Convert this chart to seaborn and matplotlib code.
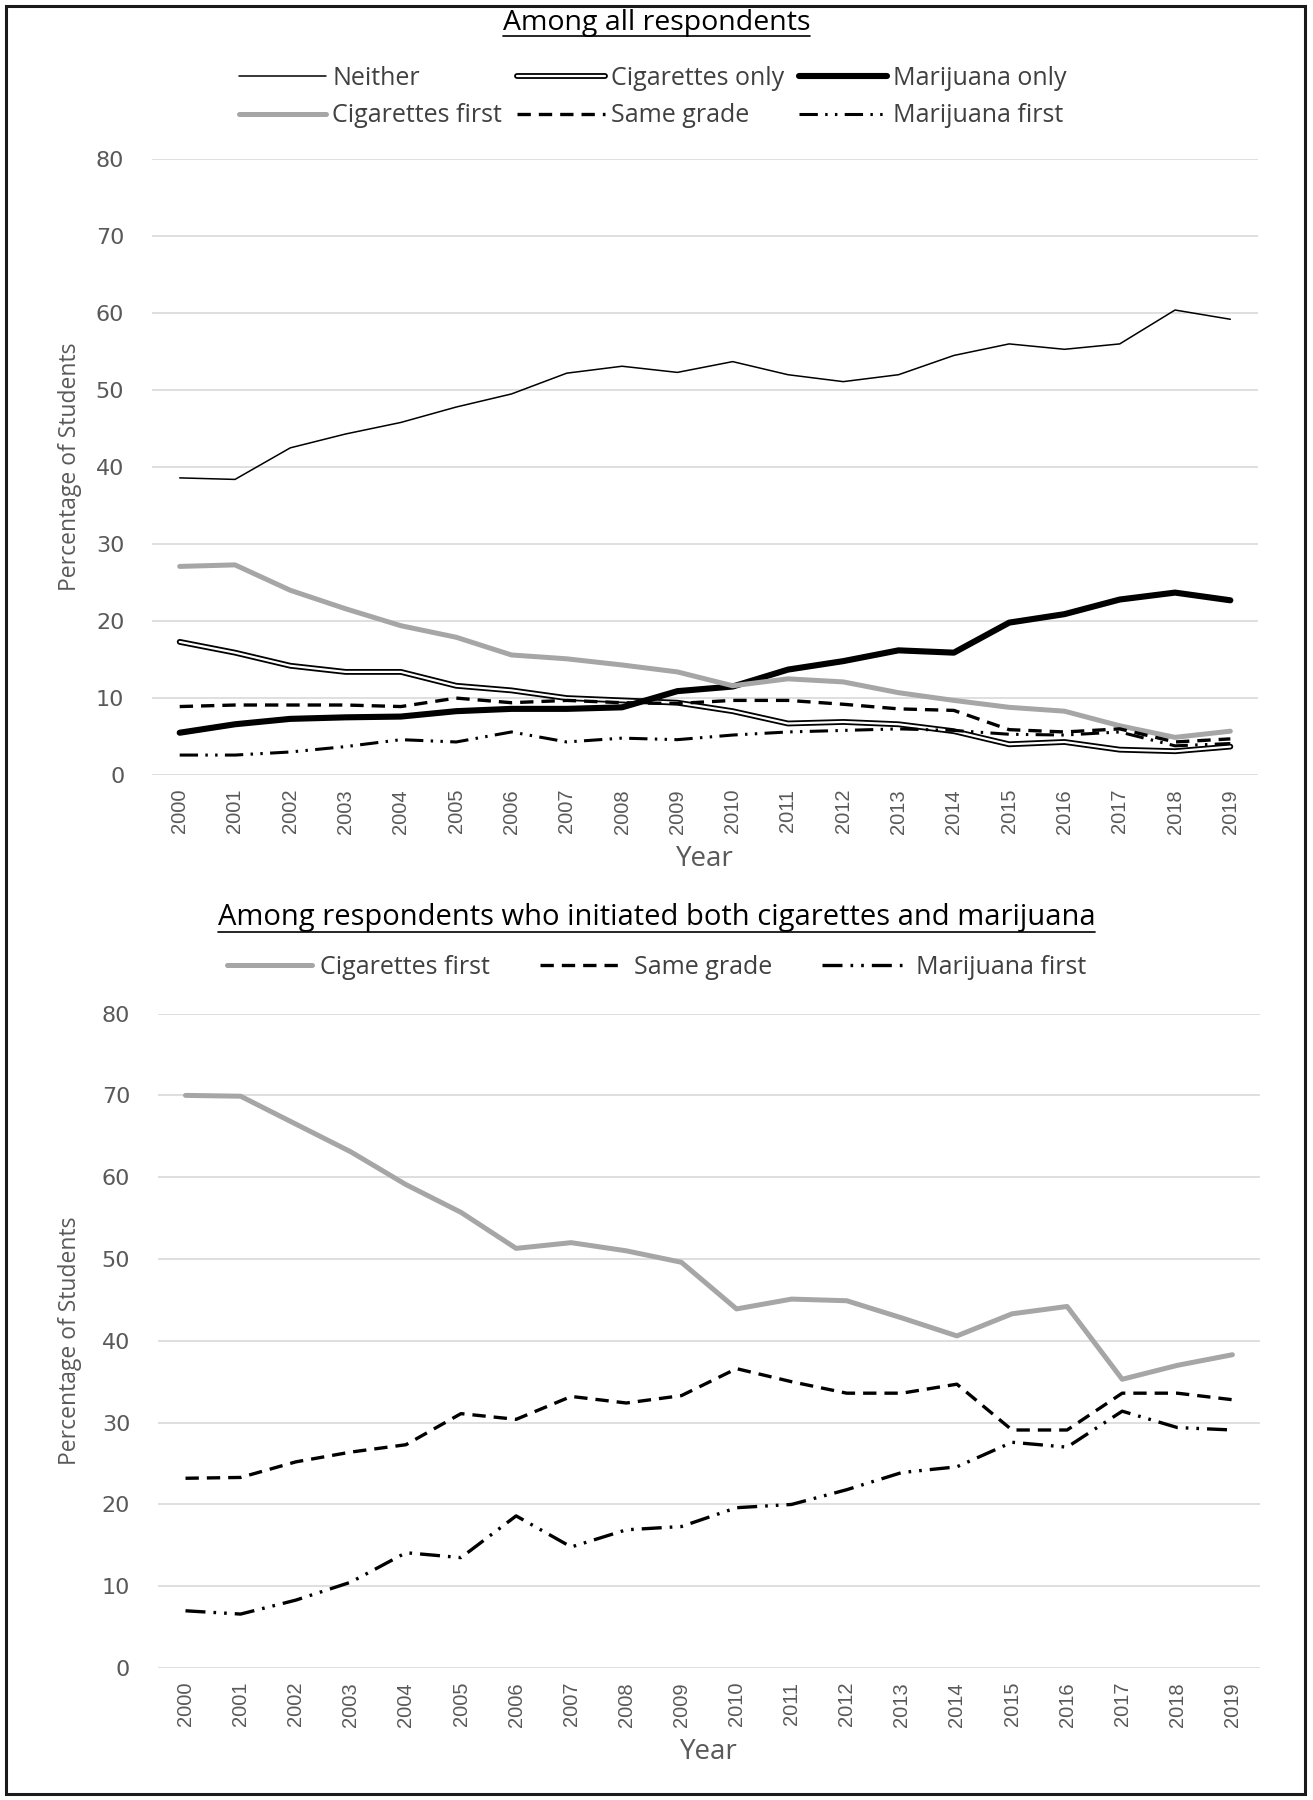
import matplotlib
matplotlib.use("Agg")
import matplotlib.pyplot as plt
import matplotlib.patheffects as pe
from matplotlib.lines import Line2D
from matplotlib.patches import Rectangle
import seaborn as sns

# values (percent of students)
years = list(range(2000, 2020))

neither = [38.6, 38.4, 42.5, 44.3, 45.8, 47.8, 49.5, 52.2, 53.1, 52.3,
           53.7, 52.0, 51.1, 52.0, 54.5, 56.0, 55.3, 56.0, 60.4, 59.2]
cig_only = [17.3, 15.9, 14.2, 13.4, 13.4, 11.6, 11.0, 10.0, 9.7, 9.4,
            8.3, 6.7, 6.9, 6.6, 5.7, 4.0, 4.3, 3.3, 3.1, 3.7]
mj_only = [5.5, 6.6, 7.3, 7.5, 7.6, 8.3, 8.6, 8.6, 8.8, 10.9,
           11.5, 13.7, 14.8, 16.2, 15.9, 19.8, 20.9, 22.8, 23.7, 22.7]
cig_first_all = [27.1, 27.3, 24.0, 21.6, 19.4, 17.9, 15.6, 15.1, 14.3, 13.4,
                 11.6, 12.5, 12.1, 10.7, 9.7, 8.8, 8.3, 6.4, 4.9, 5.7]
same_all = [8.9, 9.1, 9.1, 9.1, 8.9, 10.0, 9.4, 9.7, 9.4, 9.3,
            9.7, 9.7, 9.2, 8.6, 8.4, 5.9, 5.6, 6.0, 4.3, 4.7]
mj_first_all = [2.6, 2.6, 3.0, 3.7, 4.6, 4.3, 5.6, 4.3, 4.8, 4.6,
                5.2, 5.6, 5.8, 6.0, 5.8, 5.3, 5.2, 5.6, 3.8, 4.1]

cig_first_both = [70.0, 69.9, 66.5, 63.1, 59.1, 55.7, 51.3, 52.0, 51.0, 49.6,
                  43.9, 45.1, 44.9, 42.8, 40.6, 43.3, 44.2, 35.3, 37.0, 38.3]
same_both = [23.2, 23.3, 25.2, 26.4, 27.3, 31.1, 30.4, 33.2, 32.4, 33.3,
             36.6, 35.0, 33.6, 33.6, 34.7, 29.1, 29.1, 33.6, 33.6, 32.8]
mj_first_both = [7.0, 6.6, 8.3, 10.5, 14.1, 13.5, 18.6, 14.8, 16.9, 17.3,
                 19.6, 20.0, 21.8, 23.9, 24.6, 27.6, 27.0, 31.4, 29.4, 29.1]

sns.set_style("white")
plt.rcParams["font.family"] = ["Open Sans", "DejaVu Sans"]

GREY_TXT = "#595959"
GRID = "#d9d9d9"
dash_same = (0, (4, 2.4))
dash_mj = (0, (6, 2.4, 0.8, 2.4, 0.8, 2.4))
double_line = [pe.Stroke(linewidth=4.2, foreground="black"), pe.Normal()]

fig = plt.figure(figsize=(13.13, 18), dpi=100)
ax1 = fig.add_axes([0.1158, 0.5694, 0.8423, 0.3422])
ax2 = fig.add_axes([0.1203, 0.0733, 0.8393, 0.3636])

# top panel
sns.lineplot(x=years, y=neither, ax=ax1, color="black", lw=1.1, label="Neither")
sns.lineplot(x=years, y=cig_only, ax=ax1, color="white", lw=1.6,
             path_effects=double_line, label="Cigarettes only")
sns.lineplot(x=years, y=mj_only, ax=ax1, color="black", lw=4.4, label="Marijuana only")
sns.lineplot(x=years, y=cig_first_all, ax=ax1, color="#a6a6a6", lw=3.6,
             label="Cigarettes first")
sns.lineplot(x=years, y=same_all, ax=ax1, color="black", lw=2.4,
             linestyle=dash_same, label="Same grade")
sns.lineplot(x=years, y=mj_first_all, ax=ax1, color="black", lw=2.2,
             linestyle=dash_mj, label="Marijuana first")

# bottom panel
sns.lineplot(x=years, y=cig_first_both, ax=ax2, color="#a6a6a6", lw=3.6,
             label="Cigarettes first")
sns.lineplot(x=years, y=same_both, ax=ax2, color="black", lw=2.4,
             linestyle=dash_same, label="Same grade")
sns.lineplot(x=years, y=mj_first_both, ax=ax2, color="black", lw=2.4,
             linestyle=dash_mj, label="Marijuana first")

for ax, ylab_x in [(ax1, -0.074), (ax2, -0.080)]:
    ax.set_xlim(1999.5, 2019.5)
    ax.set_ylim(0, 80)
    ax.set_yticks(range(0, 81, 10))
    ax.set_xticks(years)
    ax.set_xticklabels([str(y) for y in years], rotation=90,
                       fontsize=14.5, color=GREY_TXT, family="Liberation Sans")
    for t in ax.get_yticklabels():
        t.set_fontsize(16)
        t.set_color(GREY_TXT)
        t.set_family("DejaVu Sans")
    ax.tick_params(axis="x", length=0, pad=10)
    ax.tick_params(axis="y", length=0, pad=20)
    ax.grid(axis="y", color=GRID, lw=1.2)
    ax.set_axisbelow(True)
    for s in ax.spines.values():
        s.set_visible(False)
    ax.set_ylabel("Percentage of Students", fontsize=16.5, color=GREY_TXT)
    ax.yaxis.set_label_coords(ylab_x, 0.5)
    ax.yaxis.label.set_va("center")
    ax.set_xlabel("Year", fontsize=20, color=GREY_TXT)
    ax.get_legend().remove()

ax1.xaxis.set_label_coords(0.5, -84 / 616)
ax2.xaxis.set_label_coords(0.5, -84 / 654)
ax1.xaxis.label.set_va("center")
ax2.xaxis.label.set_va("center")

# legends: matplotlib fills columns first, so reorder to read row-wise
h, l = ax1.get_legend_handles_labels()
order = [0, 3, 1, 4, 2, 5]
fig.legend([h[i] for i in order], [l[i] for i in order], loc="center",
           bbox_to_anchor=(0.497, 1 - 97 / 1800), ncol=3, frameon=False,
           fontsize=18, handlelength=3.5, handletextpad=0.25,
           columnspacing=0.6, labelspacing=0.5, labelcolor="#404040")

h2, l2 = ax2.get_legend_handles_labels()
fig.legend(h2, l2, loc="center", bbox_to_anchor=(0.5, 1 - 967 / 1800),
           ncol=3, frameon=False, fontsize=18, handlelength=3.4,
           handletextpad=0.35, columnspacing=2.0, labelcolor="#404040")

# underlined panel titles
titles = [
    fig.text(0.5, 1 - 23 / 1800, "Among all respondents", ha="center",
             va="center", fontsize=20.5, color="black"),
    fig.text(0.5, 1 - 918 / 1800,
             "Among respondents who initiated both cigarettes and marijuana",
             ha="center", va="center", fontsize=21, color="black"),
]
fig.canvas.draw()
r = fig.canvas.get_renderer()
for t in titles:
    bb = t.get_window_extent(renderer=r)
    fig.add_artist(Line2D([bb.x0, bb.x1], [bb.y0 + 1, bb.y0 + 1],
                          transform=None, color="black", lw=1.2))

# outer frame
fig.add_artist(Rectangle((6 / 1313, 6 / 1800), 1299 / 1313, 1788 / 1800,
                         transform=fig.transFigure, fill=False,
                         edgecolor="#1a1a1a", lw=2.2))

fig.savefig("out.png", dpi=100)
